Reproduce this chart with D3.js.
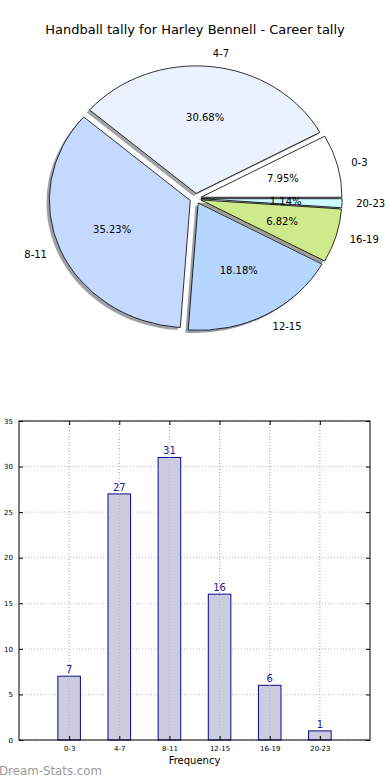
<!DOCTYPE html>
<html><head><meta charset="utf-8">
<script src="https://cdn.jsdelivr.net/npm/d3@7"></script>
<style>body{margin:0;background:#fff}svg{display:block;font-family:"DejaVu Sans",sans-serif}</style>
</head><body><svg id="c" width="390" height="780"></svg>
<script>
const categories = ["0-3","4-7","8-11","12-15","16-19","20-23"];
const counts = [7,27,31,16,6,1];
const pieColors = ["#ffffff","#eaf1ff","#c5d9ff","#b5d6ff","#cfea8a","#ccfcff"];
const yTicks = [0,5,10,15,20,25,30,35];
const title = "Handball tally for Harley Bennell - Career tally";

const svg = d3.select("#c");
svg.append("text").attr("x",195).attr("y",34).attr("text-anchor","middle")
  .attr("font-size",13).text(title);

// ---- Pie ----
const cx = 195.5, cy = 198.5, sx = 141, sy = 127.5, explode = 0.04;
const total = d3.sum(counts);
const pie = d3.pie().sort(null).startAngle(Math.PI/2).endAngle(Math.PI/2 - 2*Math.PI);
const arcs = pie(counts);
const arcGen = d3.arc().innerRadius(0).outerRadius(1);
const pg = svg.append("g");
function off(d){const m=(d.startAngle+d.endAngle)/2;return [Math.sin(m)*explode, -Math.cos(m)*explode];}
arcs.forEach((d,i)=>{
  const o = off(d);
  const c = d3.rgb(pieColors[i]);
  pg.append("path")
    .attr("transform",`translate(${cx+(o[0]-0.02)*sx},${cy+(o[1]+0.02)*sy}) scale(${sx},${sy})`)
    .attr("d",arcGen(d))
    .attr("fill",d3.rgb(c.r*0.3,c.g*0.3,c.b*0.3)).attr("fill-opacity",0.5);
});
arcs.forEach((d,i)=>{
  const o = off(d);
  pg.append("path")
    .attr("transform",`translate(${cx+o[0]*sx},${cy+o[1]*sy}) scale(${sx},${sy})`)
    .attr("d",arcGen(d))
    .attr("fill",pieColors[i]).attr("stroke","#000").attr("stroke-width",0.8)
    .attr("vector-effect","non-scaling-stroke");
});
arcs.forEach((d,i)=>{
  const m=(d.startAngle+d.endAngle)/2, s=Math.sin(m), c=Math.cos(m);
  const lx = cx + (1.1+explode)*sx*s, ly = cy - (1.1+explode)*sy*c;
  pg.append("text").attr("x",lx).attr("y",ly).attr("dy","0.35em")
    .attr("text-anchor", s>0?"start":"end").attr("font-size",10).text(categories[i]);
  const px = cx + (0.6+explode)*sx*s, py = cy - (0.6+explode)*sy*c;
  pg.append("text").attr("x",px).attr("y",py).attr("dy","0.35em")
    .attr("text-anchor","middle").attr("font-size",10)
    .text((counts[i]/total*100).toFixed(2)+"%");
});

// ---- Bars ----
const L=19,R=370,T=421,B=740;
const x = d3.scaleLinear().domain([-1,6]).range([L,R]);
const y = d3.scaleLinear().domain([0,35]).range([B,T]);
const bg = svg.append("g");
bg.selectAll(".gy").data(yTicks).join("line")
  .attr("x1",L).attr("x2",R).attr("y1",d=>y(d)).attr("y2",d=>y(d))
  .attr("stroke","#bbb").attr("stroke-width",1).attr("stroke-dasharray","1,2");
bg.selectAll(".gx").data(categories).join("line")
  .attr("x1",(d,i)=>x(i)).attr("x2",(d,i)=>x(i)).attr("y1",T).attr("y2",B)
  .attr("stroke","#bbb").attr("stroke-width",1).attr("stroke-dasharray","1,2");
const bw = 0.45;
bg.selectAll(".bar").data(counts).join("rect")
  .attr("x",(d,i)=>x(i-bw/2)).attr("width",x(bw)-x(0))
  .attr("y",d=>y(d)).attr("height",d=>B-y(d))
  .attr("fill","#ccccdf").attr("stroke","#0a0a8c").attr("stroke-width",1);
bg.selectAll(".gx2").data(categories).join("line")
  .attr("x1",(d,i)=>x(i)).attr("x2",(d,i)=>x(i)).attr("y1",T).attr("y2",B)
  .attr("stroke","#aaa").attr("stroke-width",1).attr("stroke-dasharray","1,2").attr("opacity",0.6);
bg.selectAll(".val").data(counts).join("text")
  .attr("x",(d,i)=>x(i)).attr("y",d=>y(d)-3).attr("text-anchor","middle")
  .attr("font-size",10).attr("fill","#1a1aa0").text(d=>d);
bg.append("rect").attr("x",L).attr("y",T).attr("width",R-L).attr("height",B-T)
  .attr("fill","none").attr("stroke","#000").attr("stroke-width",1);
const yAxL = d3.axisLeft(y).tickValues(yTicks).tickSizeInner(-4).tickSizeOuter(0).tickPadding(6);
const gl = bg.append("g").attr("transform",`translate(${L},0)`).call(yAxL);
const yAxR = d3.axisRight(y).tickValues(yTicks).tickSizeInner(-4).tickSizeOuter(0).tickFormat("");
const gr = bg.append("g").attr("transform",`translate(${R},0)`).call(yAxR);
const xb = d3.axisBottom(x).tickValues(d3.range(categories.length)).tickFormat(i=>categories[i])
  .tickSizeInner(-4).tickSizeOuter(0).tickPadding(6);
const gb = bg.append("g").attr("transform",`translate(0,${B})`).call(xb);
const xt = d3.axisTop(x).tickValues(d3.range(categories.length)).tickFormat("").tickSizeInner(-4).tickSizeOuter(0);
const gt = bg.append("g").attr("transform",`translate(0,${T})`).call(xt);
[gl,gr,gb,gt].forEach(g=>{g.select(".domain").remove();
  g.selectAll("text").attr("font-size",7).attr("font-family","DejaVu Sans").attr("fill","#000");
  g.selectAll("line").attr("stroke","#000");});
bg.append("text").attr("x",x(2.5)).attr("y",764).attr("text-anchor","middle").attr("font-size",10).text("Frequency");
bg.append("text").attr("transform",`translate(0,${(T+B)/2}) rotate(-90)`).attr("text-anchor","middle")
  .attr("font-size",8).attr("dy","-0.2em").text("Number of Games");
svg.append("text").attr("x",-1).attr("y",775).attr("font-size",11.8)
  .attr("fill","#999").text("Dream-Stats.com");
</script></body></html>
